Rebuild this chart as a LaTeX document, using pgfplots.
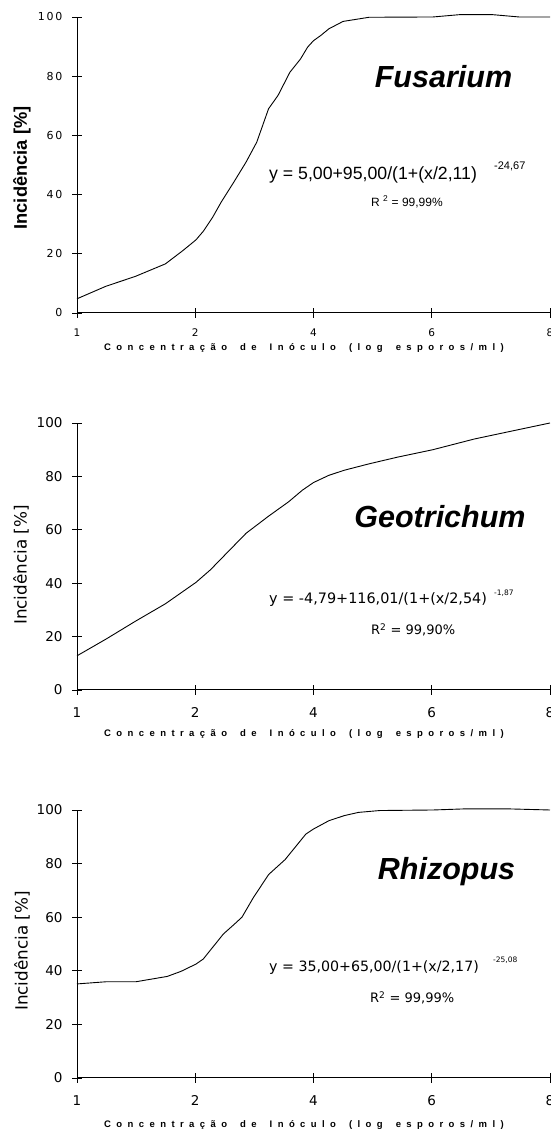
\documentclass[border=0pt]{standalone}
\usepackage{fontspec}
\setmainfont{Liberation Sans}
\usepackage{pgfplots}
\pgfplotsset{compat=1.18}
\newfontfamily\dv{DejaVu Sans}
\newfontfamily\dvsp[LetterSpace=40]{DejaVu Sans}
\newfontfamily\lsp[LetterSpace=57]{Liberation Sans}
\newcommand\xlab{Concentração\hspace{5bp} de\hspace{5bp} Inóculo\hspace{5bp} (log\hspace{5bp} esporos/ml)}

\pgfplotstableread{
t y
0 4.8
0.243 9.0
0.496 12.4
0.748 16.6
0.896 21.1
1.006 24.7
1.068 27.6
1.148 32.4
1.22 37.5
1.326 44.2
1.43 51.0
1.52 57.7
1.62 69.0
1.70 73.5
1.80 81.3
1.89 85.8
1.95 89.8
2.0 92.0
2.06 93.7
2.13 96.0
2.25 98.5
2.47 99.9
3.01 100
3.24 100.8
3.51 100.8
3.74 100
4.0 100
}\fus

\pgfplotstableread{
t y
0 12.8
0.243 19.0
0.496 25.8
0.748 32.3
1.006 40.3
1.128 45.0
1.28 51.9
1.43 58.7
1.62 65.1
1.79 70.5
1.905 74.8
2.0 77.7
2.13 80.4
2.26 82.3
2.47 84.7
2.71 87.2
3.01 90.0
3.36 94.0
3.69 97.1
4.0 100
}\geo

\pgfplotstableread{
t y
0 35.1
0.243 35.9
0.496 35.9
0.63 36.9
0.763 37.9
0.88 39.8
1.006 42.5
1.068 44.4
1.148 48.8
1.237 53.7
1.326 57.2
1.395 60.0
1.49 67.2
1.62 75.9
1.76 81.5
1.935 91.0
2.0 92.9
2.13 96.0
2.26 97.9
2.38 99.1
2.56 99.8
3.01 100
3.27 100.4
3.66 100.4
4.0 100
}\rhi

\pgfplotsset{panel/.style={
  width=473bp, scale only axis, anchor=south west,
  xmin=0, xmax=4, ymin=0, ymax=100,
  axis lines=left, axis line style={-, line width=1bp},
  xtick={0,1,2,3,4}, xticklabels={1,2,4,6,8},
  ytick={0,20,40,60,80,100},
  tick align=center, major tick length=10bp,
  tick style={black, line width=0.8bp},
  clip=false,
}}

\begin{document}
\begin{tikzpicture}[x=1bp,y=1bp]
\useasboundingbox (0,0) rectangle (551,1133);

% Panel 1: Fusarium
\begin{axis}[panel, at={(77bp,820bp)}, height=296bp,
  yticklabels={0,2\,0,4\,0,6\,0,8\,0,1\,0\,0},
  yticklabel style={font=\dvsp\fontsize{11bp}{12bp}\selectfont, xshift=-6bp},
  xticklabel style={font=\dv\fontsize{10.5bp}{12bp}\selectfont, yshift=-7bp}]
\addplot[black, line width=0.9bp] table[x=t,y=y] {\fus};
\end{axis}
\node[rotate=90, font=\bfseries\fontsize{18.3bp}{20bp}\selectfont] at (22,965) {Incidência [\%]};
\node[font=\bfseries\lsp\fontsize{9.5bp}{10bp}\selectfont] at (304,785) {\xlab};
\node[font=\bfseries\itshape\fontsize{30.5bp}{32bp}\selectfont] at (443.5,1056) {Fusarium};
\node[anchor=west, inner sep=0, font=\fontsize{17.7bp}{19bp}\selectfont] at (269,958) {y = 5,00+95,00/(1+(x/2,11)};
\node[anchor=west, inner sep=0, font=\fontsize{11bp}{12bp}\selectfont] at (494,967) {-24,67};
\node[anchor=west, inner sep=0, font=\fontsize{12bp}{13bp}\selectfont] at (371,931) {R \textsuperscript{2} = 99,99\%};

% Panel 2: Geotrichum
\begin{axis}[panel, at={(77bp,443bp)}, height=267bp,
  yticklabels={0,20,40,60,80,100},
  yticklabel style={font=\dv\fontsize{13.5bp}{15bp}\selectfont, xshift=-6bp},
  xticklabel style={font=\dv\fontsize{13.5bp}{15bp}\selectfont, yshift=-9bp}]
\addplot[black, line width=0.9bp] table[x=t,y=y] {\geo};
\end{axis}
\node[rotate=90, font=\dv\fontsize{16.8bp}{18bp}\selectfont] at (21,568) {Incidência [\%]};
\node[font=\bfseries\lsp\fontsize{9.5bp}{10bp}\selectfont] at (304,399) {\xlab};
\node[font=\bfseries\itshape\fontsize{30.5bp}{32bp}\selectfont] at (440,616) {Geotrichum};
\node[anchor=west, inner sep=0, font=\dv\fontsize{14.4bp}{16bp}\selectfont] at (269,533) {y = -4,79+116,01/(1+(x/2,54)};
\node[anchor=west, inner sep=0, font=\dv\fontsize{7.5bp}{9bp}\selectfont] at (494,540) {-1,87};
\node[anchor=west, inner sep=0, font=\dv\fontsize{13bp}{14bp}\selectfont] at (371,503) {R\textsuperscript{2} = 99,90\%};

% Panel 3: Rhizopus
\begin{axis}[panel, at={(77bp,55bp)}, height=268bp,
  yticklabels={0,20,40,60,80,100},
  yticklabel style={font=\dv\fontsize{13.5bp}{15bp}\selectfont, xshift=-6bp},
  xticklabel style={font=\dv\fontsize{13.5bp}{15bp}\selectfont, yshift=-9bp}]
\addplot[black, line width=0.9bp] table[x=t,y=y] {\rhi};
\end{axis}
\node[rotate=90, font=\dv\fontsize{16.8bp}{18bp}\selectfont] at (22,182) {Incidência [\%]};
\node[font=\bfseries\lsp\fontsize{9.5bp}{10bp}\selectfont] at (304,8) {\xlab};
\node[font=\bfseries\itshape\fontsize{30.5bp}{32bp}\selectfont] at (446.5,261) {Rhizopus};
\node[anchor=west, inner sep=0, font=\dv\fontsize{14.2bp}{16bp}\selectfont] at (269,165) {y = 35,00+65,00/(1+(x/2,17)};
\node[anchor=west, inner sep=0, font=\dv\fontsize{7.5bp}{9bp}\selectfont] at (493,173) {-25,08};
\node[anchor=west, inner sep=0, font=\dv\fontsize{13bp}{14bp}\selectfont] at (370,135) {R\textsuperscript{2} = 99,99\%};
\end{tikzpicture}
\end{document}
